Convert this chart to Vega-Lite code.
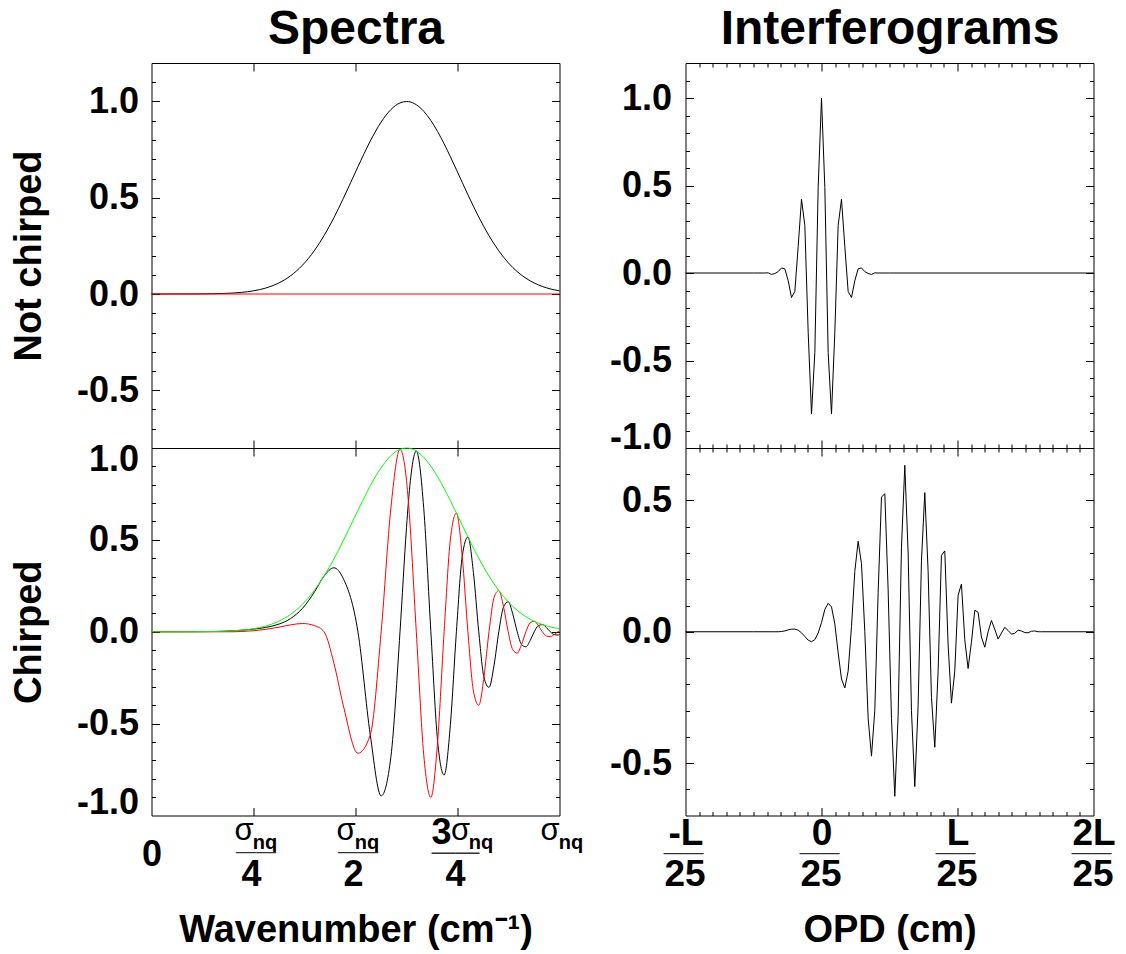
{
  "$schema": "https://vega.github.io/schema/vega-lite/v6.json",
  "background": "white",
  "autosize": {"type": "pad"},
  "padding": {"left": 9.5, "top": 5, "right": 5, "bottom": 5},
  "datasets": {
    "flatL": [{"x": 0, "y": 0}, {"x": 1, "y": 0}],
    "flatR": [{"x": -1, "y": 0}, {"x": 2, "y": 0}],
    "spec": [
      {"x": 0, "env": 0, "re": 0, "im": 0},
      {"x": 0.05, "env": 0.0001, "re": 0.0001, "im": 0},
      {"x": 0.1, "env": 0.0003, "re": 0.0002, "im": 0},
      {"x": 0.15, "env": 0.0014, "re": 0.0012, "im": -0.0003},
      {"x": 0.2, "env": 0.0051, "re": 0.0051, "im": 0},
      {"x": 0.22, "env": 0.0083, "re": 0.0081, "im": 0.0012},
      {"x": 0.25, "env": 0.0164, "re": 0.0142, "im": 0.0055},
      {"x": 0.28, "env": 0.0309, "re": 0.0236, "im": 0.013},
      {"x": 0.31, "env": 0.0551, "re": 0.0398, "im": 0.024},
      {"x": 0.34, "env": 0.0932, "re": 0.0704, "im": 0.037},
      {"x": 0.37, "env": 0.1496, "re": 0.1272, "im": 0.045},
      {"x": 0.4, "env": 0.2278, "re": 0.2187, "im": 0.033},
      {"x": 0.4229, "env": 0.3032, "re": 0.3032, "im": 0},
      {"x": 0.447, "env": 0.3962, "re": 0.348, "im": -0.17},
      {"x": 0.47, "env": 0.4956, "re": 0.29, "im": -0.4},
      {"x": 0.506, "env": 0.6611, "re": 0, "im": -0.6611},
      {"x": 0.5362, "env": 0.7942, "re": -0.5616, "im": -0.5616},
      {"x": 0.5629, "env": 0.8934, "re": -0.8934, "im": 0},
      {"x": 0.5869, "env": 0.9585, "re": -0.6778, "im": 0.6778},
      {"x": 0.6091, "env": 0.9926, "re": 0, "im": 0.9926},
      {"x": 0.625, "env": 1, "re": 0.568, "im": 0.823},
      {"x": 0.6297, "env": 0.9994, "re": 0.7067, "im": 0.7067},
      {"x": 0.649, "env": 0.9833, "re": 0.9833, "im": 0},
      {"x": 0.6673, "env": 0.9491, "re": 0.6711, "im": -0.6711},
      {"x": 0.6847, "env": 0.9011, "re": 0, "im": -0.9011},
      {"x": 0.7013, "env": 0.8436, "re": -0.5965, "im": -0.5965},
      {"x": 0.7172, "env": 0.78, "re": -0.78, "im": 0},
      {"x": 0.7326, "env": 0.713, "re": -0.5042, "im": 0.5042},
      {"x": 0.7473, "env": 0.646, "re": 0, "im": 0.646},
      {"x": 0.7616, "env": 0.5797, "re": 0.4099, "im": 0.4099},
      {"x": 0.7755, "env": 0.5159, "re": 0.5159, "im": 0},
      {"x": 0.789, "env": 0.4557, "re": 0.3222, "im": -0.3222},
      {"x": 0.8021, "env": 0.4, "re": 0, "im": -0.4},
      {"x": 0.8148, "env": 0.3491, "re": -0.2468, "im": -0.2468},
      {"x": 0.8272, "env": 0.3028, "re": -0.3028, "im": 0},
      {"x": 0.8394, "env": 0.261, "re": -0.1846, "im": 0.1846},
      {"x": 0.8512, "env": 0.2242, "re": 0, "im": 0.2242},
      {"x": 0.8629, "env": 0.1913, "re": 0.1353, "im": 0.1353},
      {"x": 0.8742, "env": 0.1629, "re": 0.1629, "im": 0},
      {"x": 0.8854, "env": 0.1379, "re": 0.0975, "im": -0.0975},
      {"x": 0.8963, "env": 0.1164, "re": 0, "im": -0.1164},
      {"x": 0.907, "env": 0.0979, "re": -0.0692, "im": -0.0692},
      {"x": 0.9176, "env": 0.082, "re": -0.082, "im": 0},
      {"x": 0.928, "env": 0.0684, "re": -0.0484, "im": 0.0484},
      {"x": 0.9381, "env": 0.057, "re": 0, "im": 0.057},
      {"x": 0.9482, "env": 0.0473, "re": 0.0334, "im": 0.0334},
      {"x": 0.958, "env": 0.0392, "re": 0.0392, "im": 0},
      {"x": 0.9678, "env": 0.0323, "re": 0.0228, "im": -0.0228},
      {"x": 0.9773, "env": 0.0266, "re": 0, "im": -0.0266},
      {"x": 0.9868, "env": 0.0218, "re": -0.0154, "im": -0.0154},
      {"x": 0.9961, "env": 0.0179, "re": -0.0179, "im": 0},
      {"x": 1, "env": 0.0164, "re": -0.0155, "im": 0.0054}
    ],
    "ifgA": [
      {"x": -1, "y": 0}, {"x": -0.5, "y": 0}, {"x": -0.4165, "y": 0},
      {"x": -0.392, "y": 0.001}, {"x": -0.3675, "y": -0.008}, {"x": -0.343, "y": -0.003},
      {"x": -0.3185, "y": 0.008}, {"x": -0.294, "y": 0.029}, {"x": -0.2695, "y": 0.024},
      {"x": -0.245, "y": -0.044}, {"x": -0.2205, "y": -0.14}, {"x": -0.196, "y": -0.105},
      {"x": -0.1715, "y": 0.152}, {"x": -0.147, "y": 0.421}, {"x": -0.1225, "y": 0.272},
      {"x": -0.098, "y": -0.339}, {"x": -0.0735, "y": -0.806}, {"x": -0.049, "y": -0.454},
      {"x": -0.0245, "y": 0.488}, {"x": 0, "y": 1}, {"x": 0.0245, "y": 0.488},
      {"x": 0.049, "y": -0.454}, {"x": 0.0735, "y": -0.806}, {"x": 0.098, "y": -0.339},
      {"x": 0.1225, "y": 0.272}, {"x": 0.147, "y": 0.421}, {"x": 0.1715, "y": 0.152},
      {"x": 0.196, "y": -0.105}, {"x": 0.2205, "y": -0.14}, {"x": 0.245, "y": -0.044},
      {"x": 0.2695, "y": 0.024}, {"x": 0.294, "y": 0.029}, {"x": 0.3185, "y": 0.008},
      {"x": 0.343, "y": -0.003}, {"x": 0.3675, "y": -0.008}, {"x": 0.392, "y": 0.001},
      {"x": 0.4165, "y": 0}, {"x": 0.5, "y": 0}, {"x": 2, "y": 0}
    ],
    "ifgB": [
      {"x": -1, "y": 0}, {"x": -0.5, "y": 0}, {"x": -0.343, "y": 0},
      {"x": -0.3185, "y": 0}, {"x": -0.294, "y": 0.001}, {"x": -0.2695, "y": 0.003},
      {"x": -0.245, "y": 0.007}, {"x": -0.2205, "y": 0.01}, {"x": -0.196, "y": 0.01},
      {"x": -0.1715, "y": 0.006}, {"x": -0.147, "y": -0.004}, {"x": -0.1225, "y": -0.018},
      {"x": -0.098, "y": -0.032}, {"x": -0.0735, "y": -0.038}, {"x": -0.049, "y": -0.03},
      {"x": -0.0245, "y": -0.005}, {"x": 0, "y": 0.035}, {"x": 0.0245, "y": 0.085},
      {"x": 0.049, "y": 0.108}, {"x": 0.0735, "y": 0.095}, {"x": 0.098, "y": 0.03},
      {"x": 0.1225, "y": -0.08}, {"x": 0.147, "y": -0.18}, {"x": 0.1715, "y": -0.214},
      {"x": 0.196, "y": -0.15}, {"x": 0.2205, "y": 0.02}, {"x": 0.245, "y": 0.23},
      {"x": 0.2695, "y": 0.345}, {"x": 0.294, "y": 0.26}, {"x": 0.3185, "y": 0},
      {"x": 0.343, "y": -0.33}, {"x": 0.3675, "y": -0.474}, {"x": 0.392, "y": -0.3},
      {"x": 0.4165, "y": 0.15}, {"x": 0.441, "y": 0.513}, {"x": 0.4655, "y": 0.526},
      {"x": 0.49, "y": 0.16}, {"x": 0.5145, "y": -0.33}, {"x": 0.539, "y": -0.627},
      {"x": 0.5635, "y": -0.32}, {"x": 0.588, "y": 0.32}, {"x": 0.6125, "y": 0.634},
      {"x": 0.637, "y": 0.3}, {"x": 0.6615, "y": -0.3}, {"x": 0.686, "y": -0.59},
      {"x": 0.7105, "y": -0.28}, {"x": 0.735, "y": 0.27}, {"x": 0.7595, "y": 0.53},
      {"x": 0.784, "y": 0.23}, {"x": 0.8085, "y": -0.25}, {"x": 0.833, "y": -0.44},
      {"x": 0.8575, "y": -0.15}, {"x": 0.882, "y": 0.291}, {"x": 0.9065, "y": 0.308},
      {"x": 0.931, "y": -0.05}, {"x": 0.9555, "y": -0.272}, {"x": 0.98, "y": -0.15},
      {"x": 1.0045, "y": 0.139}, {"x": 1.029, "y": 0.182}, {"x": 1.0535, "y": -0.03},
      {"x": 1.078, "y": -0.14}, {"x": 1.1025, "y": -0.04}, {"x": 1.127, "y": 0.082},
      {"x": 1.1515, "y": 0.074}, {"x": 1.176, "y": -0.02}, {"x": 1.2005, "y": -0.059},
      {"x": 1.225, "y": 0}, {"x": 1.2495, "y": 0.043}, {"x": 1.274, "y": 0.01},
      {"x": 1.2985, "y": -0.028}, {"x": 1.323, "y": -0.005}, {"x": 1.3475, "y": 0.017},
      {"x": 1.372, "y": 0.005}, {"x": 1.3965, "y": -0.009}, {"x": 1.421, "y": -0.006},
      {"x": 1.4455, "y": 0.006}, {"x": 1.47, "y": 0.003}, {"x": 1.4945, "y": -0.003},
      {"x": 1.519, "y": -0.004}, {"x": 1.5435, "y": 0.002}, {"x": 1.568, "y": 0.003},
      {"x": 1.5925, "y": 0}, {"x": 1.617, "y": 0}, {"x": 2, "y": 0}
    ]
  },
  "bounds": "flush",
  "spacing": 534,
  "hconcat": [
    {
      "bounds": "flush",
      "spacing": 0,
      "vconcat": [
        {
          "width": 408, "height": 385,
          "resolve": {"axis": {"x": "independent", "y": "independent"}},
          "layer": [
            {"data": {"name": "spec"}, "mark": {"type": "line", "color": "#000000", "strokeWidth": 1, "interpolate": "monotone"},
             "encoding": {
               "x": {"field": "x", "type": "quantitative", "scale": {"domain": [0, 1]}, "axis": {"orient": "bottom", "values": [0.25, 0.5, 0.75], "tickSize": -8, "labels": false, "title": null}},
               "y": {"field": "env", "type": "quantitative", "scale": {"domain": [-0.8, 1.2]}, "axis": {"orient": "left", "values": [-0.5, 0, 0.5, 1], "ticks": false, "labelPadding": 13, "labelExpr": "datum.value < 0 ? '-' + format(-datum.value, '.1f') : format(datum.value, '.1f')", "title": "Not chirped", "titlePadding": 28}}
             }},
            {"data": {"name": "flatL"}, "mark": {"type": "line", "color": "#ff0000", "strokeWidth": 1},
             "encoding": {
               "x": {"field": "x", "type": "quantitative", "scale": {"domain": [0, 1]}, "axis": {"orient": "top", "values": [0.25, 0.5, 0.75], "tickSize": -8, "labels": false, "title": "Spectra", "titleFontSize": 48, "titlePadding": 9}},
               "y": {"field": "y", "type": "quantitative", "scale": {"domain": [-0.8, 1.2]}, "axis": {"orient": "left", "values": [-0.5, 0, 0.5, 1], "tickSize": -8, "labels": false, "title": null}}
             }},
            {"data": {"name": "flatL"}, "mark": {"type": "line", "strokeOpacity": 0},
             "encoding": {
               "x": {"field": "x", "type": "quantitative", "scale": {"domain": [0, 1]}, "axis": null},
               "y": {"field": "y", "type": "quantitative", "scale": {"domain": [-0.8, 1.2]}, "axis": {"orient": "left", "values": [-0.7, -0.6, -0.4, -0.3, -0.2, -0.1, 0.1, 0.2, 0.3, 0.4, 0.6, 0.7, 0.8, 0.9, 1.1], "tickSize": -4, "labels": false, "title": null}}
             }},
            {"data": {"name": "flatL"}, "mark": {"type": "line", "strokeOpacity": 0},
             "encoding": {
               "x": {"field": "x", "type": "quantitative", "scale": {"domain": [0, 1]}, "axis": null},
               "y": {"field": "y", "type": "quantitative", "scale": {"domain": [-0.8, 1.2]}, "axis": {"orient": "right", "values": [-0.5, 0, 0.5, 1], "tickSize": -8, "labels": false, "title": null}}
             }},
            {"data": {"name": "flatL"}, "mark": {"type": "line", "strokeOpacity": 0},
             "encoding": {
               "x": {"field": "x", "type": "quantitative", "scale": {"domain": [0, 1]}, "axis": null},
               "y": {"field": "y", "type": "quantitative", "scale": {"domain": [-0.8, 1.2]}, "axis": {"orient": "right", "values": [-0.7, -0.6, -0.4, -0.3, -0.2, -0.1, 0.1, 0.2, 0.3, 0.4, 0.6, 0.7, 0.8, 0.9, 1.1], "tickSize": -4, "labels": false, "title": null}}
             }}
          ]
        },
        {
          "width": 408, "height": 367.5,
          "resolve": {"axis": {"x": "independent", "y": "independent"}},
          "layer": [
            {"data": {"name": "spec"}, "mark": {"type": "line", "color": "#000000", "strokeWidth": 1, "interpolate": "monotone"},
             "encoding": {
               "x": {"field": "x", "type": "quantitative", "scale": {"domain": [0, 1]}, "axis": {"orient": "bottom", "values": [0.25, 0.5, 0.75], "tickSize": -8, "labels": false, "title": "Wavenumber (cm⁻¹)", "titlePadding": 95}},
               "y": {"field": "re", "type": "quantitative", "scale": {"domain": [-1, 1]}, "axis": {"orient": "left", "values": [-1, -0.5, 0, 0.5, 1], "ticks": false, "labelPadding": 13, "labelFlush": true, "labelFlushOffset": 6, "labelExpr": "datum.value < 0 ? '-' + format(-datum.value, '.1f') : format(datum.value, '.1f')", "title": "Chirped", "titlePadding": 28}}
             }},
            {"data": {"name": "spec"}, "mark": {"type": "line", "color": "#ff0000", "strokeWidth": 1, "interpolate": "monotone"},
             "encoding": {
               "x": {"field": "x", "type": "quantitative", "scale": {"domain": [0, 1]}, "axis": {"orient": "top", "values": [0.25, 0.5, 0.75], "tickSize": -8, "labels": false, "title": null}},
               "y": {"field": "im", "type": "quantitative", "scale": {"domain": [-1, 1]}, "axis": {"orient": "left", "values": [-0.5, 0, 0.5], "tickSize": -8, "labels": false, "title": null}}
             }},
            {"data": {"name": "spec"}, "mark": {"type": "line", "color": "#00ff00", "strokeWidth": 1, "interpolate": "monotone"},
             "encoding": {
               "x": {"field": "x", "type": "quantitative", "scale": {"domain": [0, 1]}, "axis": {"orient": "bottom", "values": [0.25, 0.5, 1], "ticks": false, "labelExpr": "'σ'", "labelFontWeight": "normal", "labelFontSize": 31, "labelOffset": -10, "labelPadding": 0, "title": null}},
               "y": {"field": "env", "type": "quantitative", "scale": {"domain": [-1, 1]}, "axis": {"orient": "left", "values": [-0.9, -0.8, -0.7, -0.6, -0.4, -0.3, -0.2, -0.1, 0.1, 0.2, 0.3, 0.4, 0.6, 0.7, 0.8, 0.9], "tickSize": -4, "labels": false, "title": null}}
             }},
            {"data": {"name": "flatL"}, "mark": {"type": "line", "strokeOpacity": 0},
             "encoding": {
               "x": {"field": "x", "type": "quantitative", "scale": {"domain": [0, 1]}, "axis": {"orient": "bottom", "values": [0.75], "ticks": false, "labelExpr": "'σ'", "labelFontWeight": "normal", "labelFontSize": 31, "labelOffset": 2.5, "labelPadding": 0, "title": null}},
               "y": {"field": "y", "type": "quantitative", "scale": {"domain": [-1, 1]}, "axis": {"orient": "right", "values": [-0.5, 0, 0.5], "tickSize": -8, "labels": false, "title": null}}
             }},
            {"data": {"name": "flatL"}, "mark": {"type": "line", "strokeOpacity": 0},
             "encoding": {
               "x": {"field": "x", "type": "quantitative", "scale": {"domain": [0, 1]}, "axis": {"orient": "bottom", "values": [0.25, 0.5, 1], "ticks": false, "labelExpr": "'nq'", "labelFontSize": 20, "labelOffset": 11, "labelPadding": 17, "title": null}},
               "y": {"field": "y", "type": "quantitative", "scale": {"domain": [-1, 1]}, "axis": {"orient": "right", "values": [-0.9, -0.8, -0.7, -0.6, -0.4, -0.3, -0.2, -0.1, 0.1, 0.2, 0.3, 0.4, 0.6, 0.7, 0.8, 0.9], "tickSize": -4, "labels": false, "title": null}}
             }},
            {"data": {"name": "flatL"}, "mark": {"type": "line", "strokeOpacity": 0},
             "encoding": {
               "x": {"field": "x", "type": "quantitative", "scale": {"domain": [0, 1]}, "axis": {"orient": "bottom", "values": [0.75], "ticks": false, "labelExpr": "'nq'", "labelFontSize": 20, "labelOffset": 23, "labelPadding": 17, "title": null}},
               "y": {"field": "y", "type": "quantitative", "scale": {"domain": [-1, 1]}, "axis": null}
             }},
            {"data": {"name": "flatL"}, "mark": {"type": "line", "strokeOpacity": 0},
             "encoding": {
               "x": {"field": "x", "type": "quantitative", "scale": {"domain": [0, 1]}, "axis": {"orient": "bottom", "values": [0.25, 0.5, 0.75], "ticks": false, "labelExpr": "datum.value > 0.4 && datum.value < 0.6 ? '2' : '4'", "labelOffset": -2.5, "labelPadding": 42, "title": null}},
               "y": {"field": "y", "type": "quantitative", "scale": {"domain": [-1, 1]}, "axis": null}
             }},
            {"data": {"name": "flatL"}, "mark": {"type": "line", "strokeOpacity": 0},
             "encoding": {
               "x": {"field": "x", "type": "quantitative", "scale": {"domain": [0, 1]}, "axis": {"orient": "bottom", "values": [0], "ticks": false, "labelExpr": "'0'", "labelOffset": 0, "labelPadding": 22, "title": null}},
               "y": {"field": "y", "type": "quantitative", "scale": {"domain": [-1, 1]}, "axis": null}
             }},
            {"data": {"name": "flatL"}, "mark": {"type": "line", "strokeOpacity": 0},
             "encoding": {
               "x": {"field": "x", "type": "quantitative", "scale": {"domain": [0, 1]}, "axis": {"orient": "bottom", "values": [0.75], "ticks": false, "labelExpr": "'3'", "labelOffset": -16.5, "labelPadding": 0, "title": null}},
               "y": {"field": "y", "type": "quantitative", "scale": {"domain": [-1, 1]}, "axis": null}
             }},
            {"data": {"name": "flatL"}, "mark": {"type": "line", "strokeOpacity": 0},
             "encoding": {
               "x": {"field": "x", "type": "quantitative", "scale": {"domain": [0, 1]}, "axis": {"orient": "bottom", "values": [0.25, 0.5], "ticks": false, "labelExpr": "'——'", "labelFontWeight": "normal", "labelFontSize": 20, "labelColor": "#333333", "labelOffset": 2, "labelPadding": 26, "title": null}},
               "y": {"field": "y", "type": "quantitative", "scale": {"domain": [-1, 1]}, "axis": null}
             }},
            {"data": {"name": "flatL"}, "mark": {"type": "line", "strokeOpacity": 0},
             "encoding": {
               "x": {"field": "x", "type": "quantitative", "scale": {"domain": [0, 1]}, "axis": {"orient": "bottom", "values": [0.75], "ticks": false, "labelExpr": "'——'", "labelFontWeight": "normal", "labelFontSize": 24, "labelColor": "#333333", "labelOffset": -2.5, "labelPadding": 24, "title": null}},
               "y": {"field": "y", "type": "quantitative", "scale": {"domain": [-1, 1]}, "axis": null}
             }}
          ]
        }
      ]
    },
    {
      "bounds": "flush",
      "spacing": 0,
      "vconcat": [
        {
          "width": 408, "height": 385,
          "resolve": {"axis": {"x": "independent", "y": "independent"}},
          "layer": [
            {"data": {"name": "ifgA"}, "mark": {"type": "line", "color": "#000000", "strokeWidth": 1},
             "encoding": {
               "x": {"field": "x", "type": "quantitative", "scale": {"domain": [-1, 2]}, "axis": {"orient": "bottom", "values": [0, 1], "tickSize": -8, "labels": false, "title": null}},
               "y": {"field": "y", "type": "quantitative", "scale": {"domain": [-1, 1.2]}, "axis": {"orient": "left", "values": [-1, -0.5, 0, 0.5, 1], "ticks": false, "labelPadding": 14, "labelFlush": true, "labelFlushOffset": 8, "labelExpr": "datum.value < 0 ? '-' + format(-datum.value, '.1f') : format(datum.value, '.1f')", "title": null}}
             }},
            {"data": {"name": "flatR"}, "mark": {"type": "line", "strokeOpacity": 0},
             "encoding": {
               "x": {"field": "x", "type": "quantitative", "scale": {"domain": [-1, 2]}, "axis": {"orient": "bottom", "values": [-0.9, -0.8, -0.7, -0.6, -0.5, -0.4, -0.3, -0.2, -0.1, 0.1, 0.2, 0.3, 0.4, 0.5, 0.6, 0.7, 0.8, 0.9, 1.1, 1.2, 1.3, 1.4, 1.5, 1.6, 1.7, 1.8, 1.9], "tickSize": -4, "labels": false, "title": null}},
               "y": {"field": "y", "type": "quantitative", "scale": {"domain": [-1, 1.2]}, "axis": {"orient": "left", "values": [-0.5, 0, 0.5, 1], "tickSize": -8, "labels": false, "title": null}}
             }},
            {"data": {"name": "flatR"}, "mark": {"type": "line", "strokeOpacity": 0},
             "encoding": {
               "x": {"field": "x", "type": "quantitative", "scale": {"domain": [-1, 2]}, "axis": {"orient": "top", "values": [0, 1], "tickSize": -8, "labels": false, "title": "Interferograms", "titleFontSize": 48, "titlePadding": 9}},
               "y": {"field": "y", "type": "quantitative", "scale": {"domain": [-1, 1.2]}, "axis": {"orient": "left", "values": [-0.9, -0.8, -0.7, -0.6, -0.4, -0.3, -0.2, -0.1, 0.1, 0.2, 0.3, 0.4, 0.6, 0.7, 0.8, 0.9, 1.1], "tickSize": -4, "labels": false, "title": null}}
             }},
            {"data": {"name": "flatR"}, "mark": {"type": "line", "strokeOpacity": 0},
             "encoding": {
               "x": {"field": "x", "type": "quantitative", "scale": {"domain": [-1, 2]}, "axis": {"orient": "top", "values": [-0.9, -0.8, -0.7, -0.6, -0.5, -0.4, -0.3, -0.2, -0.1, 0.1, 0.2, 0.3, 0.4, 0.5, 0.6, 0.7, 0.8, 0.9, 1.1, 1.2, 1.3, 1.4, 1.5, 1.6, 1.7, 1.8, 1.9], "tickSize": -4, "labels": false, "title": null}},
               "y": {"field": "y", "type": "quantitative", "scale": {"domain": [-1, 1.2]}, "axis": {"orient": "right", "values": [-0.5, 0, 0.5, 1], "tickSize": -8, "labels": false, "title": null}}
             }},
            {"data": {"name": "flatR"}, "mark": {"type": "line", "strokeOpacity": 0},
             "encoding": {
               "x": {"field": "x", "type": "quantitative", "scale": {"domain": [-1, 2]}, "axis": null},
               "y": {"field": "y", "type": "quantitative", "scale": {"domain": [-1, 1.2]}, "axis": {"orient": "right", "values": [-0.9, -0.8, -0.7, -0.6, -0.4, -0.3, -0.2, -0.1, 0.1, 0.2, 0.3, 0.4, 0.6, 0.7, 0.8, 0.9, 1.1], "tickSize": -4, "labels": false, "title": null}}
             }}
          ]
        },
        {
          "width": 408, "height": 367.5,
          "resolve": {"axis": {"x": "independent", "y": "independent"}},
          "layer": [
            {"data": {"name": "ifgB"}, "mark": {"type": "line", "color": "#000000", "strokeWidth": 1},
             "encoding": {
               "x": {"field": "x", "type": "quantitative", "scale": {"domain": [-1, 2]}, "axis": {"orient": "bottom", "values": [0, 1], "tickSize": -8, "labels": false, "title": "OPD (cm)", "titlePadding": 95}},
               "y": {"field": "y", "type": "quantitative", "scale": {"domain": [-0.7, 0.7]}, "axis": {"orient": "left", "values": [-0.5, 0, 0.5], "ticks": false, "labelPadding": 14, "labelExpr": "datum.value < 0 ? '-' + format(-datum.value, '.1f') : format(datum.value, '.1f')", "title": null}}
             }},
            {"data": {"name": "flatR"}, "mark": {"type": "line", "strokeOpacity": 0},
             "encoding": {
               "x": {"field": "x", "type": "quantitative", "scale": {"domain": [-1, 2]}, "axis": {"orient": "bottom", "values": [-0.9, -0.8, -0.7, -0.6, -0.5, -0.4, -0.3, -0.2, -0.1, 0.1, 0.2, 0.3, 0.4, 0.5, 0.6, 0.7, 0.8, 0.9, 1.1, 1.2, 1.3, 1.4, 1.5, 1.6, 1.7, 1.8, 1.9], "tickSize": -4, "labels": false, "title": null}},
               "y": {"field": "y", "type": "quantitative", "scale": {"domain": [-0.7, 0.7]}, "axis": {"orient": "left", "values": [-0.5, 0, 0.5], "tickSize": -8, "labels": false, "title": null}}
             }},
            {"data": {"name": "flatR"}, "mark": {"type": "line", "strokeOpacity": 0},
             "encoding": {
               "x": {"field": "x", "type": "quantitative", "scale": {"domain": [-1, 2]}, "axis": {"orient": "top", "values": [0, 1], "tickSize": -8, "labels": false, "title": null}},
               "y": {"field": "y", "type": "quantitative", "scale": {"domain": [-0.7, 0.7]}, "axis": {"orient": "left", "values": [-0.6, -0.4, -0.3, -0.2, -0.1, 0.1, 0.2, 0.3, 0.4, 0.6], "tickSize": -4, "labels": false, "title": null}}
             }},
            {"data": {"name": "flatR"}, "mark": {"type": "line", "strokeOpacity": 0},
             "encoding": {
               "x": {"field": "x", "type": "quantitative", "scale": {"domain": [-1, 2]}, "axis": {"orient": "top", "values": [-0.9, -0.8, -0.7, -0.6, -0.5, -0.4, -0.3, -0.2, -0.1, 0.1, 0.2, 0.3, 0.4, 0.5, 0.6, 0.7, 0.8, 0.9, 1.1, 1.2, 1.3, 1.4, 1.5, 1.6, 1.7, 1.8, 1.9], "tickSize": -4, "labels": false, "title": null}},
               "y": {"field": "y", "type": "quantitative", "scale": {"domain": [-0.7, 0.7]}, "axis": {"orient": "right", "values": [-0.5, 0, 0.5], "tickSize": -8, "labels": false, "title": null}}
             }},
            {"data": {"name": "flatR"}, "mark": {"type": "line", "strokeOpacity": 0},
             "encoding": {
               "x": {"field": "x", "type": "quantitative", "scale": {"domain": [-1, 2]}, "axis": {"orient": "bottom", "values": [-1, 0, 1, 2], "ticks": false, "labelExpr": "datum.value < -0.5 ? '-L' : datum.value < 0.5 ? '0' : datum.value < 1.5 ? 'L' : '2L'", "labelFontSize": 37, "labelOffset": 0, "labelPadding": 0, "title": null}},
               "y": {"field": "y", "type": "quantitative", "scale": {"domain": [-0.7, 0.7]}, "axis": {"orient": "right", "values": [-0.6, -0.4, -0.3, -0.2, -0.1, 0.1, 0.2, 0.3, 0.4, 0.6], "tickSize": -4, "labels": false, "title": null}}
             }},
            {"data": {"name": "flatR"}, "mark": {"type": "line", "strokeOpacity": 0},
             "encoding": {
               "x": {"field": "x", "type": "quantitative", "scale": {"domain": [-1, 2]}, "axis": {"orient": "bottom", "values": [-1, 0, 1, 2], "ticks": false, "labelExpr": "'——'", "labelFontWeight": "normal", "labelFontSize": 20, "labelColor": "#333333", "labelOffset": -2.5, "labelPadding": 27, "title": null}},
               "y": {"field": "y", "type": "quantitative", "scale": {"domain": [-0.7, 0.7]}, "axis": null}
             }},
            {"data": {"name": "flatR"}, "mark": {"type": "line", "strokeOpacity": 0},
             "encoding": {
               "x": {"field": "x", "type": "quantitative", "scale": {"domain": [-1, 2]}, "axis": {"orient": "bottom", "values": [-1, 0, 1, 2], "ticks": false, "labelExpr": "'25'", "labelFontSize": 37, "labelOffset": -1, "labelPadding": 41, "title": null}},
               "y": {"field": "y", "type": "quantitative", "scale": {"domain": [-0.7, 0.7]}, "axis": null}
             }}
          ]
        }
      ]
    }
  ],
  "config": {
    "view": {"stroke": "#000000", "strokeWidth": 1},
    "line": {"strokeWidth": 1},
    "axis": {
      "domain": false, "grid": false,
      "labelFont": "Liberation Sans", "labelFontWeight": "bold", "labelFontSize": 36, "labelColor": "#000000",
      "labelFlush": false, "labelOverlap": false, "labelBound": false, "labelLimit": 0,
      "tickColor": "#000000", "tickWidth": 1,
      "titleFont": "Liberation Sans", "titleFontWeight": "bold", "titleFontSize": 38, "titleColor": "#000000"
    }
  }
}
